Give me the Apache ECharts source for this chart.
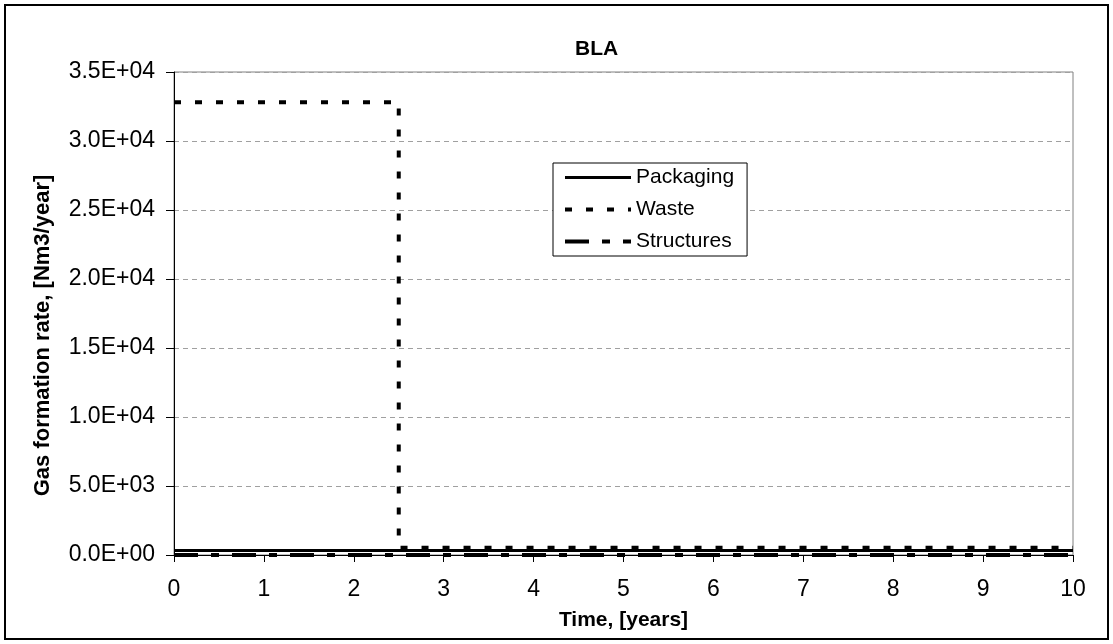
<!DOCTYPE html>
<html>
<head>
<meta charset="utf-8">
<script src="https://cdn.jsdelivr.net/npm/echarts@6/dist/echarts.min.js"></script>
<style>
  html, body { margin: 0; padding: 0; background: #fff; }
  #chart { width: 1113px; height: 644px; }
</style>
</head>
<body>
<div id="chart"></div>
<script>
// Gas formation rate per source, BLA
const packagingTime = [0, 10];
const packagingRate = [330, 330];
const wasteTime = [0, 2.5, 2.5, 10];
const wasteRate = [32800, 32800, 520, 520];
const structuresTime = [0, 10];
const structuresRate = [0, 0];

const yMin = 0, yMax = 35000, yStep = 5000;
const xMin = 0, xMax = 10, xStep = 1;

const FONT = 'Liberation Sans, Arial, sans-serif';

// line styles shared by the series and their legend samples
const packagingLine = { color: '#000', width: 3, type: 'solid' };
const wasteLine = { color: '#000', width: 4, type: [7, 14], cap: 'butt' };
const structuresLine = { color: '#000', width: 4, type: [24, 13, 8, 13], cap: 'butt' };

function pairs(xs, ys) {
  return xs.map((x, i) => [x, ys[i]]);
}

// scientific label with two-digit exponent, e.g. 3.5E+04
function sci(v) {
  if (v === 0) return '0.0E+00';
  const exp = Math.floor(Math.log10(Math.abs(v)));
  const mant = v / Math.pow(10, exp);
  const e = Math.abs(exp).toString().padStart(2, '0');
  return mant.toFixed(1) + 'E' + (exp < 0 ? '-' : '+') + e;
}

const chart = echarts.init(document.getElementById('chart'), null, { renderer: 'canvas' });

chart.setOption({
  animation: false,
  backgroundColor: '#fff',
  title: {
    text: 'BLA',
    left: 570,
    top: 34,
    textStyle: { fontFamily: FONT, fontSize: 21, fontWeight: 'bold', color: '#000' }
  },
  graphic: [{
    type: 'rect',
    shape: { x: 5, y: 5, width: 1103, height: 634 },
    style: { fill: 'none', stroke: '#000', lineWidth: 2 },
    silent: true,
    z: -1
  }],
  legend: {
    orient: 'vertical',
    left: 553,
    top: 163,
    padding: [4, 13, 4, 10],
    itemWidth: 66,
    itemHeight: 14,
    itemGap: 11,
    borderColor: '#000',
    borderWidth: 1,
    backgroundColor: '#fff',
    itemStyle: { opacity: 0 },
    textStyle: { fontFamily: FONT, fontSize: 21, lineHeight: 21, color: '#000', padding: [0, 0, 0, 0] },
    data: [
      { name: 'Packaging', lineStyle: packagingLine, itemStyle: { opacity: 0 } },
      { name: 'Waste', lineStyle: wasteLine, itemStyle: { opacity: 0 } },
      { name: 'Structures', lineStyle: structuresLine, itemStyle: { opacity: 0 } }
    ]
  },
  grid: {
    left: 174,
    right: 40,
    top: 72,
    bottom: 89,
    show: true,
    borderColor: '#808080',
    borderWidth: 1
  },
  xAxis: {
    type: 'value',
    min: xMin,
    max: xMax,
    interval: xStep,
    name: 'Time, [years]',
    nameLocation: 'middle',
    nameGap: 55,
    nameTextStyle: { fontFamily: FONT, fontSize: 21, fontWeight: 'bold', color: '#000' },
    axisLine: { show: true, lineStyle: { color: '#000', width: 1 } },
    axisTick: { show: true, inside: false, length: 7, lineStyle: { color: '#000' } },
    axisLabel: { fontFamily: FONT, fontSize: 23, color: '#000', margin: 23 },
    splitLine: { show: false }
  },
  yAxis: {
    type: 'value',
    min: yMin,
    max: yMax,
    interval: yStep,
    name: 'Gas formation rate, [Nm3/year]',
    nameLocation: 'middle',
    nameGap: 120,
    nameTextStyle: { fontFamily: FONT, fontSize: 22, fontWeight: 'bold', color: '#000', padding: [0, 44, 0, 0] },
    axisLine: { show: true, lineStyle: { color: '#000', width: 1 } },
    axisTick: { show: true, inside: false, length: 8, lineStyle: { color: '#000' } },
    axisLabel: { fontFamily: FONT, fontSize: 23, color: '#000', margin: 19, formatter: sci },
    splitLine: { show: true, lineStyle: { color: '#a0a0a0', type: [5, 4], width: 1 } }
  },
  series: [
    {
      name: 'Packaging',
      type: 'line',
      data: pairs(packagingTime, packagingRate),
      showSymbol: false,
      clip: false,
      color: '#000',
      lineStyle: packagingLine,
      z: 3
    },
    {
      name: 'Waste',
      type: 'line',
      data: pairs(wasteTime, wasteRate),
      showSymbol: false,
      clip: false,
      color: '#000',
      lineStyle: wasteLine,
      z: 4
    },
    {
      name: 'Structures',
      type: 'line',
      data: pairs(structuresTime, structuresRate),
      showSymbol: false,
      clip: false,
      color: '#000',
      lineStyle: structuresLine,
      z: 3
    }
  ]
});
</script>
</body>
</html>
